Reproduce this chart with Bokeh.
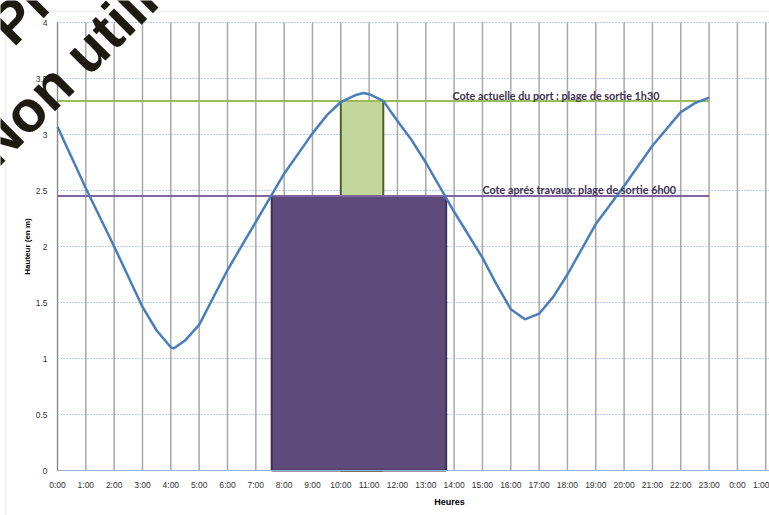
from bokeh.plotting import figure
from bokeh.models import FixedTicker, Label, LinearAxis, BoxAnnotation, Grid
from bokeh.embed import file_html
from bokeh.resources import INLINE

# ---- data ----
hours = [0, 1, 2, 3, 3.5, 4, 4.1, 4.5, 5, 6, 7, 8, 9, 9.5, 10, 10.5, 10.8, 11, 11.5, 12, 12.5,
         13, 14, 15, 15.5, 16, 16.5, 17, 17.5, 18, 19, 20, 21, 22, 22.5, 23]
hauteur = [3.07, 2.52, 2.00, 1.46, 1.25, 1.10, 1.09, 1.16, 1.30, 1.79, 2.22, 2.65, 3.01, 3.17, 3.29, 3.35, 3.37, 3.36, 3.30, 3.12, 2.95,
           2.75, 2.31, 1.90, 1.66, 1.44, 1.35, 1.40, 1.55, 1.75, 2.20, 2.54, 2.90, 3.20, 3.28, 3.33]

cote_actuelle = 3.30
cote_travaux = 2.45
ligne_debut, ligne_fin = 0, 23

# sortie windows (start hour, end hour)
sortie_actuelle = (10.0, 11.5)   # 1h30
sortie_travaux = (7.56, 13.72)   # ~6h00

x_ticks = list(range(0, 26))
x_tick_labels = [f"{h % 24}:00" for h in x_ticks]
y_ticks = [0, 0.5, 1, 1.5, 2, 2.5, 3, 3.5, 4]
y_tick_labels = ["0", "0.5", "1", "1.5", "2", "2.5", "3", "3.5", "4"]

label_actuelle = "Cote actuelle du port : plage de sortie 1h30"
label_travaux = "Cote aprés travaux: plage de sortie 6h00"

# ---- layout (pixels) ----
W, H = 769, 515
plot_left, plot_top, plot_bottom = 57, 22, 470      # chart area inside the canvas
px_per_hour = 28.33
px_per_m = 112.0
x_min = -plot_left / px_per_hour
x_max = (W - plot_left) / px_per_hour
y_min = -(H - plot_bottom) / px_per_m
y_max = 4 + plot_top / px_per_m

p = figure(width=W, height=H, x_range=(x_min, x_max), y_range=(y_min, y_max),
           output_backend="svg", toolbar_location=None,
           x_axis_location=None, y_axis_location=None,
           min_border=0, min_border_left=0, min_border_right=0, min_border_top=0, min_border_bottom=0)
p.outline_line_color = None
p.background_fill_color = "white"
p.border_fill_color = "white"
for r in list(p.center):
    if isinstance(r, Grid):
        r.visible = False

# chart-area border (light grey, as in the spreadsheet export)
p.add_layout(BoxAnnotation(left=5, right=W + 10, top=H - 11, bottom=-10,
                           left_units="screen", right_units="screen",
                           top_units="screen", bottom_units="screen",
                           fill_color=None, fill_alpha=0, line_color="#d4d4d4", line_width=2))

# grid lines (vertical: every hour, horizontal: dotted every 0.5 m)
p.segment(x0=x_ticks, x1=x_ticks, y0=[y_ticks[0]] * len(x_ticks), y1=[y_ticks[-1]] * len(x_ticks),
          line_color="#a8a8a8", line_width=1.5)
p.segment(x0=[0] * (len(y_ticks) - 1), x1=[x_max] * (len(y_ticks) - 1), y0=y_ticks[1:], y1=y_ticks[1:],
          line_color="#6F9FD8", line_width=1, line_dash="1 2")

# axes at fixed locations
xax = LinearAxis(fixed_location=0, bounds=(0, x_max), ticker=FixedTicker(ticks=x_ticks))
xax.major_label_overrides = {t: l for t, l in zip(x_ticks, x_tick_labels)}
yax = LinearAxis(fixed_location=0, bounds=(0, 4), ticker=FixedTicker(ticks=y_ticks))
yax.major_label_overrides = {t: l for t, l in zip(y_ticks, y_tick_labels)}
for ax in (xax, yax):
    ax.major_tick_line_color = None
    ax.minor_tick_line_color = None
    ax.major_tick_out = 0
    ax.major_tick_in = 0
    ax.minor_tick_out = 0
    ax.major_label_text_font = "Liberation Sans"
    ax.major_label_text_font_size = "8.5px"
    ax.major_label_text_color = "#333333"
xax.axis_line_color = "#95B3D7"
xax.major_label_standoff = 9
yax.axis_line_color = "#868686"
yax.major_label_standoff = 10
p.add_layout(xax, "below")
p.add_layout(yax, "left")

# axis titles
p.add_layout(Label(x=-30 / px_per_hour, y=2.0, text="Hauteur (en m)", angle=90, angle_units="deg",
                   text_font="Liberation Sans", text_font_style="bold", text_font_size="8px",
                   text_color="#000000", text_align="center", text_baseline="middle"))
p.add_layout(Label(x=13.84, y=-31 / px_per_m, text="Heures",
                   text_font="Liberation Sans", text_font_style="bold", text_font_size="9px",
                   text_color="#000000", text_align="center", text_baseline="middle"))

# bars
p.quad(left=[sortie_actuelle[0]], right=[sortie_actuelle[1]], bottom=[0], top=[cote_actuelle],
       fill_color="#C3D69B", line_color="#4F6228", line_width=2)
p.quad(left=[sortie_travaux[0]], right=[sortie_travaux[1]], bottom=[0], top=[cote_travaux],
       fill_color="#5F4B7B", line_color="#3F3151", line_width=2)

# horizontal reference lines
p.line([ligne_debut, ligne_fin], [cote_actuelle, cote_actuelle], line_color="#9BBB59", line_width=2)
p.line([ligne_debut, ligne_fin], [cote_travaux, cote_travaux], line_color="#8064A2", line_width=2)

# tide curve
p.line(hours, hauteur, line_color="#4A7EBB", line_width=2.5)

# annotations
p.add_layout(Label(x=13.94, y=3.348, text=label_actuelle,
                   text_font="Lato", text_font_style="bold", text_font_size="10.8px",
                   text_color="#403152", text_baseline="middle", text_align="left"))
p.add_layout(Label(x=15.0, y=2.51, text=label_travaux,
                   text_font="Lato", text_font_style="bold", text_font_size="10.8px",
                   text_color="#403152", text_baseline="middle", text_align="left"))

# watermark
p.add_layout(Label(x=-1.6, y=481.7, x_units="screen", y_units="screen", text="Projet",
                   angle=45, angle_units="deg", text_font="Liberation Sans", text_font_style="bold",
                   text_font_size="58px", text_color="#1d1a12", text_baseline="alphabetic"))
p.add_layout(Label(x=-17.5, y=361.3, x_units="screen", y_units="screen", text="Non utilisable",
                   angle=45, angle_units="deg", text_font="Liberation Sans", text_font_style="bold",
                   text_font_size="58px", text_color="#1d1a12", text_baseline="alphabetic"))

open("out.html", "w").write(file_html(p, INLINE))
